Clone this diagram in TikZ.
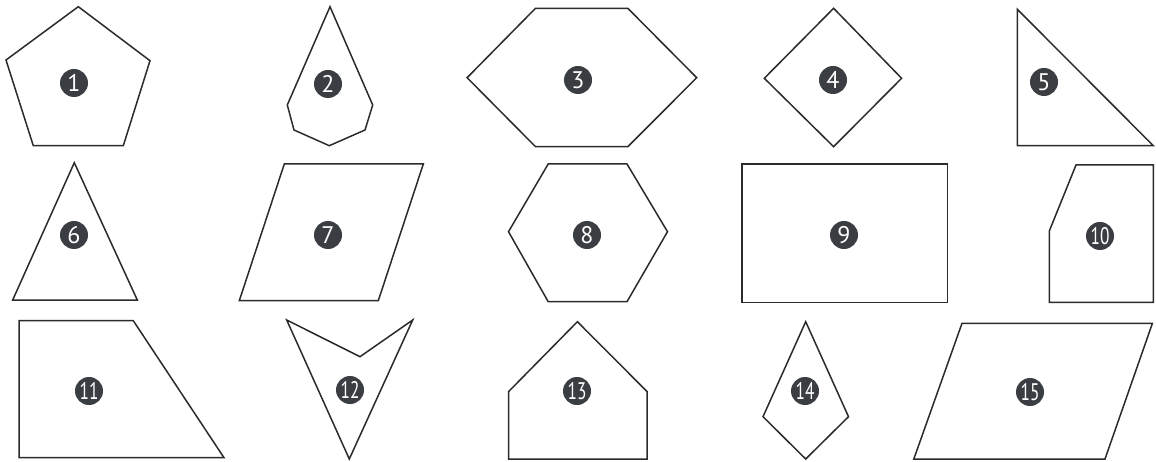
\documentclass[tikz,border=0pt]{standalone}
\usepackage{fontspec}
\setmainfont{PT Sans}
\definecolor{edge}{HTML}{2B2B2B}
\definecolor{badge}{HTML}{3A3D42}
\tikzset{
  outline/.style={draw=edge, line width=1.5pt, line join=miter, fill=white},
  num/.style={circle, fill=badge, text=white, minimum size=28pt, inner sep=0pt,
    font=\fontsize{24}{24}\selectfont},
}
\newcommand{\twodig}[1]{\scalebox{0.72}[1]{#1}}
\begin{document}
\begin{tikzpicture}[x=1pt,y=-1pt]
\useasboundingbox[fill=white] (0,0) rectangle (1156,462);
% row 1
\draw[outline] (78.3,6.7) -- (150,60.7) -- (123.3,145.7) -- (33.3,145.7) -- (6,60) -- cycle;
\draw[outline] (330,6.7) -- (372.7,105) -- (365,130) -- (329.3,145.7) -- (294,130) -- (287.3,105) -- cycle;
\draw[outline] (535.5,8.3) -- (627.8,8.3) -- (696.7,77.7) -- (627.8,146.7) -- (535.5,146.7) -- (467.1,77.7) -- cycle;
\draw[outline] (833.6,8.3) -- (901.6,78.3) -- (833.6,146.7) -- (764.3,78.3) -- cycle;
\draw[outline] (1017.3,9.3) -- (1153.3,145.7) -- (1017.3,145.7) -- cycle;
% row 2
\draw[outline] (74.3,162.7) -- (137.3,300) -- (12.7,300) -- cycle;
\draw[outline] (284.3,164) -- (423.3,164) -- (378.3,300.7) -- (239.3,300.7) -- cycle;
\draw[outline] (548.2,164) -- (627,164) -- (667.5,231.7) -- (627,301.7) -- (548.2,301.7) -- (508.5,231.7) -- cycle;
\draw[outline] (741.8,164) rectangle (947.5,302.7);
\draw[outline] (1076,165) -- (1153.3,165) -- (1153.3,302.3) -- (1049.3,302.3) -- (1049.3,231) -- cycle;
% row 3
\draw[outline] (19,320.7) -- (133.3,320.7) -- (224,457.7) -- (19,457.7) -- cycle;
\draw[outline] (286.7,320) -- (360,356.7) -- (412.7,320) -- (349.3,459) -- cycle;
\draw[outline] (577.4,321.7) -- (647.2,391.7) -- (647.2,459) -- (508.5,459) -- (508.5,391.7) -- cycle;
\draw[outline] (805.7,321.7) -- (848.5,416.7) -- (805.7,459) -- (763,416.7) -- cycle;
\draw[outline] (962,323.3) -- (1152.4,323.3) -- (1105,459) -- (913.8,459) -- cycle;
% badges
\node[num] (n1) at (74,83) {1};
\node[num] (n2) at (328,84) {2};
\node[num] (n3) at (578,80) {3};
\node[num] (n4) at (833,80) {4};
\node[num] (n5) at (1044,82) {5};
\node[num] (n6) at (74,235) {6};
\node[num] (n7) at (328,235) {7};
\node[num] (n8) at (587,235) {8};
\node[num] (n9) at (844,235) {9};
\node[num] (n10) at (1100,236) {\twodig{10}};
\node[num] (n11) at (89,391) {\twodig{11}};
\node[num] (n12) at (350,390) {\twodig{12}};
\node[num] (n13) at (577,391) {\twodig{13}};
\node[num] (n14) at (805,391) {\twodig{14}};
\node[num] (n15) at (1030,392) {\twodig{15}};
\end{tikzpicture}
\end{document}
